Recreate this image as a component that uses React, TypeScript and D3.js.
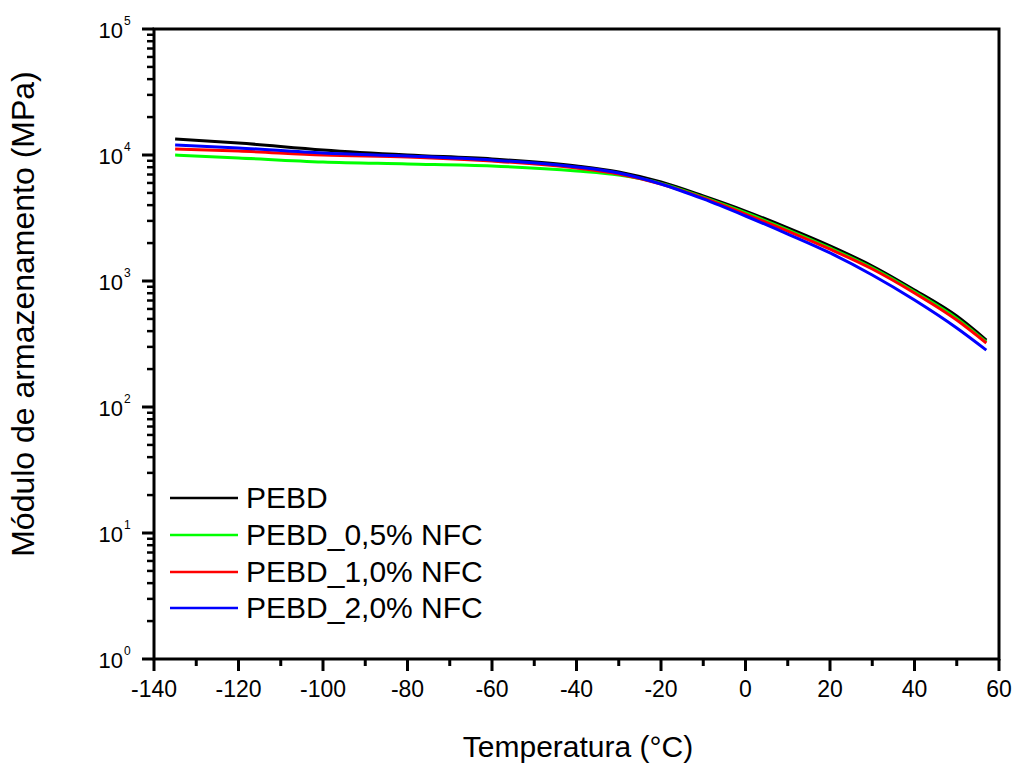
import React from "react";
import * as d3 from "d3";

const temps = [-135, -120, -100, -80, -60, -40, -30, -20, -10, 0, 10, 20, 30, 40, 50, 57];
const pebd = [13400, 12450, 10970, 10000, 9300, 8180, 7330, 6100, 4730, 3590, 2640, 1900, 1316, 849, 527, 340];
const pebd05 = [10000, 9470, 8790, 8490, 8180, 7460, 6930, 5950, 4620, 3480, 2550, 1830, 1270, 820, 505, 328];
const pebd10 = [11160, 10760, 10000, 9640, 8960, 7890, 7070, 5890, 4560, 3400, 2490, 1790, 1245, 803, 490, 322];
const pebd20 = [12000, 11370, 10380, 9820, 9120, 8030, 7200, 5890, 4480, 3280, 2360, 1670, 1117, 707, 424, 283];

const seriesNames = ["PEBD", "PEBD_0,5% NFC", "PEBD_1,0% NFC", "PEBD_2,0% NFC"];
const seriesColors = ["#000000", "#00ff00", "#ff0000", "#0000ff"];
const seriesValues = [pebd, pebd05, pebd10, pebd20];

const xTicks = [-140, -120, -100, -80, -60, -40, -20, 0, 20, 40, 60];
const xMinorTicks = [-130, -110, -90, -70, -50, -30, -10, 10, 30, 50];
const yExponents = [0, 1, 2, 3, 4, 5];

const L = 154, R = 999, T = 29, B = 659;
const font = "Arial, 'Liberation Sans', sans-serif";

export default function App() {
  const x = d3.scaleLinear().domain([-140, 60]).range([L, R]);
  const y = d3.scaleLog().domain([1, 100000]).range([B, T]);
  const line = d3
    .line<number>()
    .x((_, i) => x(temps[i]))
    .y((v) => y(v))
    .curve(d3.curveMonotoneX);

  const yMinor: number[] = [];
  for (let e = 0; e < 5; e++) for (let m = 2; m <= 9; m++) yMinor.push(m * Math.pow(10, e));

  const legendY = [498, 535, 572, 608];

  return (
    <svg width={1016} height={765} style={{ position: "absolute", left: 0, top: 0, background: "#fff" }} fontFamily={font}>
      <rect x={0} y={0} width={1016} height={765} fill="#fff" />
      {seriesValues.map((vals, k) => (
        <path key={k} d={line(vals) || ""} fill="none" stroke={seriesColors[k]} strokeWidth={3} />
      ))}
      {/* frame */}
      <rect x={L} y={T} width={R - L} height={B - T} fill="none" stroke="#000" strokeWidth={3} />
      {/* x ticks */}
      {xTicks.map((t) => (
        <g key={"xt" + t}>
          <line x1={x(t)} x2={x(t)} y1={B} y2={B + 12} stroke="#000" strokeWidth={3} />
          <text x={x(t)} y={B + 38} fontSize={23} textAnchor="middle" fill="#000">
            {t}
          </text>
        </g>
      ))}
      {xMinorTicks.map((t) => (
        <line key={"xm" + t} x1={x(t)} x2={x(t)} y1={B} y2={B + 7} stroke="#000" strokeWidth={3} />
      ))}
      {/* y ticks */}
      {yExponents.map((e) => {
        const yy = y(Math.pow(10, e));
        return (
          <g key={"yt" + e}>
            <line x1={L - 12} x2={L} y1={yy} y2={yy} stroke="#000" strokeWidth={3} />
            <text x={123} y={yy + 9} fontSize={22} textAnchor="end" fill="#000">
              10
            </text>
            <text x={124} y={yy - 4} fontSize={12} textAnchor="start" fill="#000">
              {e}
            </text>
          </g>
        );
      })}
      {yMinor.map((v, i) => (
        <line key={"ym" + i} x1={L - 7} x2={L} y1={y(v)} y2={y(v)} stroke="#000" strokeWidth={2.5} />
      ))}
      {/* axis titles */}
      <text x={578} y={757} fontSize={30} textAnchor="middle" fill="#000">
        Temperatura (°C)
      </text>
      <text transform="translate(34,314) rotate(-90)" fontSize={32} textAnchor="middle" fill="#000">
        Módulo de armazenamento (MPa)
      </text>
      {/* legend */}
      {seriesNames.map((n, k) => (
        <g key={"lg" + k}>
          <line x1={170} x2={238} y1={legendY[k]} y2={legendY[k]} stroke={seriesColors[k]} strokeWidth={2.5} />
          <text x={246} y={legendY[k] + 10} fontSize={30} fill="#000">
            {n}
          </text>
        </g>
      ))}
    </svg>
  );
}
